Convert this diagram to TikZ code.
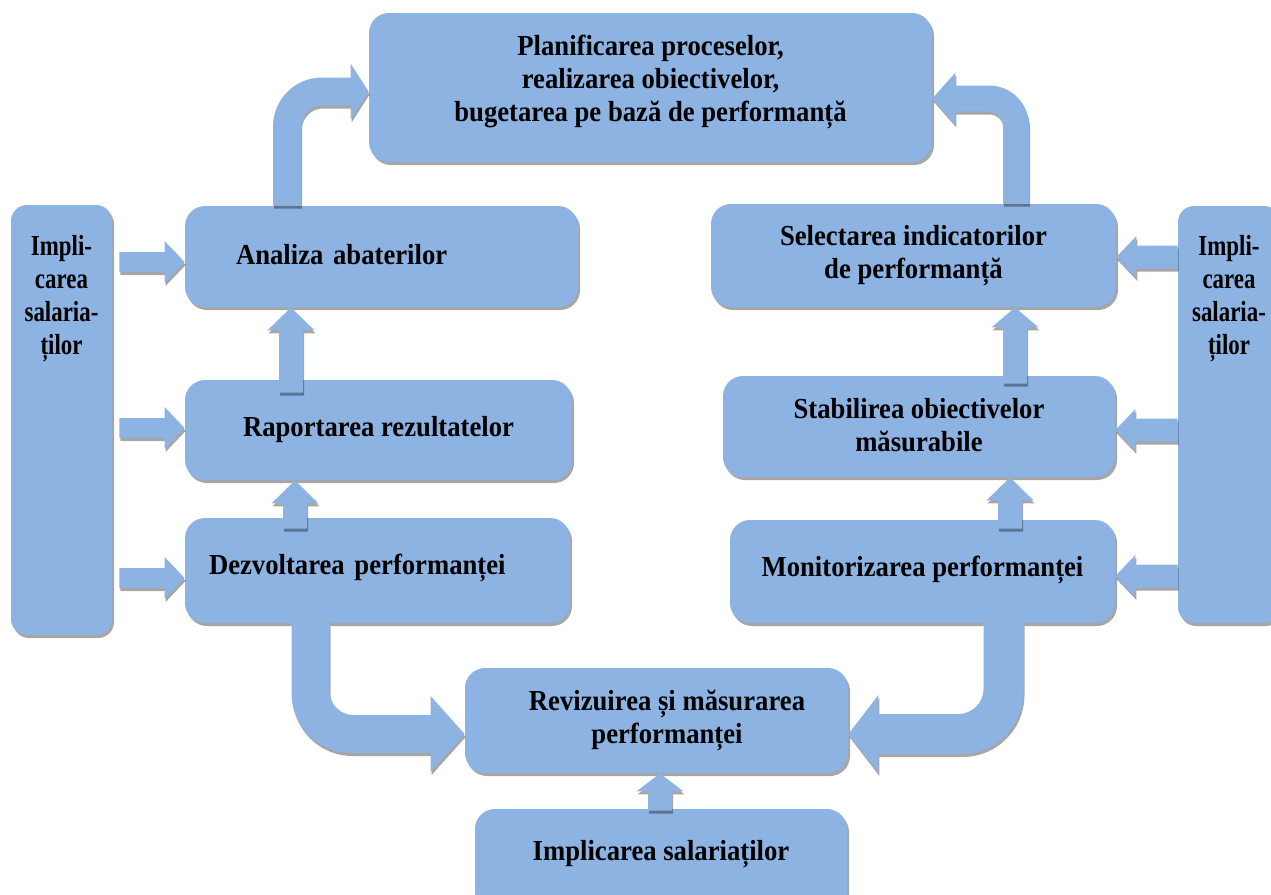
\documentclass[tikz,border=0pt]{standalone}
\usepackage{fontspec}
\setmainfont{Liberation Serif}[FakeStretch=0.92]
\newfontfamily\sidefont{Liberation Serif}[FakeStretch=0.79]
\usepackage{tikz}
\usetikzlibrary{
    calc,
    shadows
}
\definecolor{boxblue}{RGB}{141,179,226}
\newcommand\txtdrop[1]{\rule[-#1]{0pt}{#1}}
\tikzset{
    % Colors
    box color/.style={fill=boxblue},
    box shadow/.style={drop shadow={shadow xshift=1pt,shadow yshift=-1.5pt,fill=black,opacity=.35}},
    arr shadow/.style={drop shadow={shadow xshift=.5pt,shadow yshift=-1.5pt,fill=black,opacity=.35}},
    %
    % Boxes
    box/.style={rectangle,rounded corners=10pt,box color,box shadow,align=center,inner sep=2pt,text=black,
        font=\fontsize{14.5}{16.5}\selectfont\bfseries},
    side box/.style={box,rounded corners=8pt,font=\fontsize{14.5}{16.5}\selectfont\sidefont\bfseries},
    %
    % Block arrows
    arr w/.store in=\arrw,
    arr head/.store in=\arrhw,
    arr len/.store in=\arrhl,
    arr skip/.store in=\arrskip,
    arr ro/.store in=\arrro,
    arr ri/.store in=\arrri,
    arr w=6pt, arr head=11.5pt, arr len=11pt, arr skip=0pt, arr ro=25pt, arr ri=10pt,
    arr style/.style={box color,arr shadow},
    blockarr/.style={arr style,to path={
        ($(\tikztostart)!\arrskip!(\tikztotarget)!\arrw!90:(\tikztotarget)$)
        -- ($(\tikztotarget)!\arrhl!(\tikztostart)!\arrw!-90:(\tikztostart)$)
        -- ($(\tikztotarget)!\arrhl!(\tikztostart)!\arrhw!-90:(\tikztostart)$)
        -- (\tikztotarget)
        -- ($(\tikztotarget)!\arrhl!(\tikztostart)!\arrhw!90:(\tikztostart)$)
        -- ($(\tikztotarget)!\arrhl!(\tikztostart)!\arrw!90:(\tikztostart)$)
        -- ($(\tikztostart)!\arrskip!(\tikztotarget)!\arrw!-90:(\tikztotarget)$)
        -- cycle}},
    bentarr/.style={arr style,to path={
        let \p1=(\tikztostart), \p2=(\tikztotarget),
            \n1={sign(\x2-\x1)}, \n2={sign(\y2-\y1)} in
        ({\x1-\n1*\arrw},\y1)
        -- ({\x1-\n1*\arrw},{\y2+\n2*(\arrw-\arrro)})
        .. controls ({\x1-\n1*\arrw},{\y2+\n2*(\arrw-0.448*\arrro)})
               and ({\x1-\n1*(\arrw-0.448*\arrro)},{\y2+\n2*\arrw})
        .. ({\x1-\n1*(\arrw-\arrro)},{\y2+\n2*\arrw})
        -- ({\x2-\n1*\arrhl},{\y2+\n2*\arrw})
        -- ({\x2-\n1*\arrhl},{\y2+\n2*\arrhw})
        -- (\x2,\y2)
        -- ({\x2-\n1*\arrhl},{\y2-\n2*\arrhw})
        -- ({\x2-\n1*\arrhl},{\y2-\n2*\arrw})
        -- ({\x1+\n1*(\arrw+\arrri)},{\y2-\n2*\arrw})
        .. controls ({\x1+\n1*(\arrw+0.448*\arrri)},{\y2-\n2*\arrw})
               and ({\x1+\n1*\arrw},{\y2-\n2*(\arrw+0.448*\arrri)})
        .. ({\x1+\n1*\arrw},{\y2-\n2*(\arrw+\arrri)})
        -- ({\x1+\n1*\arrw},\y1) -- cycle}},
    harr/.style={blockarr,arr w=5pt,arr head=10.5pt,arr len=10pt},
    varr/.style={blockarr,arr w=6pt,arr head=11.75pt,arr len=11.5pt}
}

\begin{document}
\begin{tikzpicture}[x=0.5pt,y=-0.5pt]
    \useasboundingbox (0,0) rectangle (1271,895);
    \clip (0,0) rectangle (1271,895);

    \node[box,minimum width=281.5pt,minimum height=74.5pt] (plan) at (650.5,87.5)
        {Planificarea proceselor,\\realizarea obiectivelor,\\bugetarea pe bază de performanță\txtdrop{9pt}};
    \node[side box,minimum width=50.5pt,minimum height=215pt] (implL) at (61.5,420)
        {Impli-\\carea\\salaria-\\ților\txtdrop{125pt}};
    \node[side box,minimum width=51pt,minimum height=208.5pt] (implR) at (1229,414.5)
        {Impli-\\carea\\salaria-\\ților\txtdrop{119.5pt}};
    \node[box,align=left,text width=145.5pt,inner xsep=25.5pt,minimum width=196.5pt,minimum height=50.5pt] (ana) at (381.5,256.5)
        {Analiza abaterilor\txtdrop{2pt}};
    \node[box,minimum width=193.5pt,minimum height=50pt] (rap) at (378.5,430)
        {Raportarea rezultatelor};
    \node[box,align=left,text width=168.5pt,inner xsep=12pt,minimum width=192.5pt,minimum height=52.5pt] (dezv) at (377.5,570.5)
        {Dezvoltarea performanței\txtdrop{6.7pt}};
    \node[box,minimum width=202.5pt,minimum height=51.5pt] (sel) at (913.5,255.5)
        {Selectarea indicatorilor\\de performanță\txtdrop{2.5pt}};
    \node[box,minimum width=196pt,minimum height=50.5pt] (stab) at (919,426.5)
        {Stabilirea obiectivelor\\măsurabile\txtdrop{1.5pt}};
    \node[box,minimum width=192.5pt,minimum height=51.5pt] (mon) at (922.5,571.5)
        {Monitorizarea performanței\txtdrop{5.7pt}};
    \node[box,minimum width=191.5pt,minimum height=52.5pt] (rev) at (656.5,720.5)
        {\hspace*{10.5pt}Revizuirea și măsurarea\\\hspace*{10.5pt}performanței\txtdrop{2.5pt}};
    \node[box,minimum width=186pt,minimum height=51.5pt] (implB) at (661,860.5)
        {Implicarea salariaților\txtdrop{10.5pt}};

    \coordinate (cA) at (287,91.5);
    \coordinate (cB) at (1016,98.5);
    \coordinate (cC) at (310.5,734);
    \coordinate (cD) at (1003.5,734);
    \coordinate (hl1) at (0,262);
    \coordinate (hl2) at (0,428);
    \coordinate (hl3) at (0,578);
    \coordinate (hr1) at (0,257);
    \coordinate (hr2) at (0,430);
    \coordinate (hr3) at (0,576);
    \coordinate (vl1) at (291,0);
    \coordinate (vl2) at (295,0);
    \coordinate (vr1) at (1015,0);
    \coordinate (vr2) at (1010,0);
    \coordinate (vb) at (660,0);

    \path[bentarr,arr w=7pt,arr head=14pt,arr len=9pt,arr ro=24.5pt,arr ri=10.5pt] (ana.north -| cA) to (plan.west |- cA);
    \path[bentarr,arr w=6.5pt,arr head=13pt,arr len=11.5pt,arr ro=20pt,arr ri=7.5pt] (sel.north -| cB) to (plan.east |- cB);
    \path[bentarr,arr w=9.5pt,arr head=19pt,arr len=17pt,arr ro=30pt,arr ri=12pt] (dezv.south -| cC) to (rev.west |- cC);
    \path[bentarr,arr w=10pt,arr head=19.5pt,arr len=15pt,arr ro=31pt,arr ri=12.5pt] (mon.south -| cD) to (rev.east |- cD);

    \path[harr,arr skip=3.5pt] (implL.east |- hl1) to (ana.west |- hl1);
    \path[harr,arr skip=3.5pt] (implL.east |- hl2) to (rap.west |- hl2);
    \path[harr,arr skip=3.5pt] (implL.east |- hl3) to (dezv.west |- hl3);
    \path[harr,arr w=5.75pt] (implR.west |- hr1) to (sel.east |- hr1);
    \path[harr,arr w=5.75pt] (implR.west |- hr2) to (stab.east |- hr2);
    \path[harr,arr w=5.75pt] (implR.west |- hr3) to (mon.east |- hr3);

    \path[varr,arr skip=-6.5pt] (rap.north -| vl1) to (ana.south -| vl1);
    \path[varr,arr skip=-5.5pt] (dezv.north -| vl2) to (rap.south -| vl2);
    \path[varr,arr skip=-4pt,arr len=10pt] (stab.north -| vr1) to (sel.south -| vr1);
    \path[varr,arr skip=-4.5pt] (mon.north -| vr2) to (stab.south -| vr2);
    \path[varr,arr skip=-1pt,arr len=9pt] (implB.north -| vb) to (rev.south -| vb);
\end{tikzpicture}
\end{document}
